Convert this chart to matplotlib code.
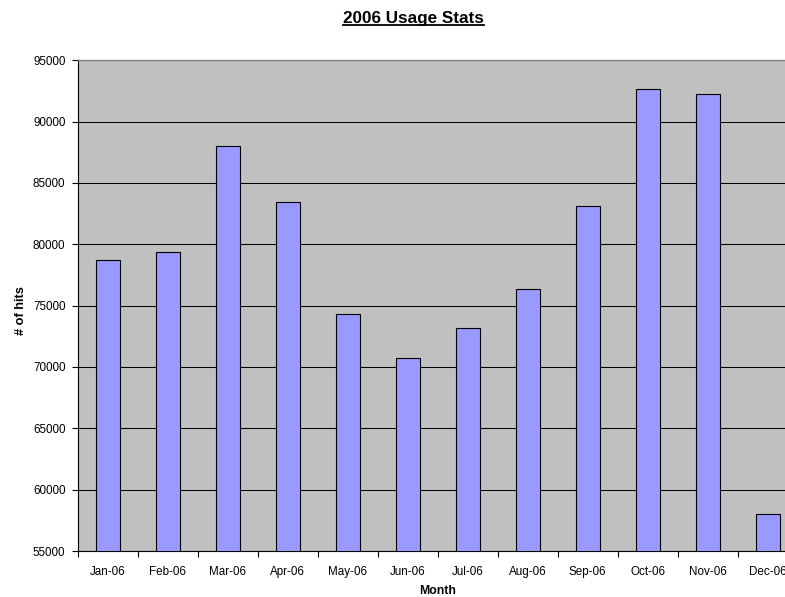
import matplotlib
matplotlib.use("Agg")
import matplotlib.pyplot as plt
from matplotlib.lines import Line2D
import numpy as np

months = ["Jan-06", "Feb-06", "Mar-06", "Apr-06", "May-06", "Jun-06",
          "Jul-06", "Aug-06", "Sep-06", "Oct-06", "Nov-06", "Dec-06"]
hits = [78700, 79350, 88000, 83450, 74300, 70700,
        73200, 76350, 83150, 92700, 92250, 58000]
y_ticks = [55000, 60000, 65000, 70000, 75000, 80000, 85000, 90000, 95000]
title = "2006 Usage Stats"
xlabel = "Month"
ylabel = "# of hits"

plt.rcParams['font.family'] = ['Liberation Sans', 'DejaVu Sans']

W, H = 785, 597
fig = plt.figure(figsize=(W / 100, H / 100), dpi=100)
left, right, top, bottom = 77.7, 797.7, 60.3, 551.0
ax = fig.add_axes([left / W, 1 - bottom / H, (right - left) / W, (bottom - top) / H])
ax.set_facecolor("#C0C0C0")

x = np.arange(len(months))
ax.bar(x, hits, width=0.405, color="#9999FF", edgecolor="black", linewidth=0.8, zorder=3)

ax.set_ylim(55000, 95000)
ax.set_xlim(-0.5, len(months) - 0.5)
ax.set_yticks(y_ticks)
ax.set_yticklabels([str(v) for v in y_ticks], fontsize=8.4)
ax.yaxis.grid(True, color="black", linewidth=0.75, zorder=1)
ax.set_axisbelow(True)

ax.set_xticks(np.arange(-0.5, len(months), 1.0))
ax.set_xticklabels([])
ax.set_xticks(x, minor=True)
ax.set_xticklabels(months, minor=True, fontsize=8.4)
ax.tick_params(axis='x', which='major', length=4, width=0.8, direction='out')
ax.tick_params(axis='x', which='minor', length=0, pad=10.5)
ax.tick_params(axis='y', length=4, width=0.8, direction='out', pad=4.8)

for s in ['left', 'bottom']:
    ax.spines[s].set_color('black')
    ax.spines[s].set_linewidth(0.8)
ax.spines['top'].set_color('#808080')
ax.spines['top'].set_linewidth(1.0)
ax.spines['right'].set_visible(False)

fig.text(437.7 / W, 1 - 591.5 / H, xlabel, fontsize=8.8, fontweight='bold',
         ha='center', va='center')
fig.text(21 / W, 1 - 311 / H, ylabel, fontsize=9.2, fontweight='bold',
         ha='center', va='center', rotation=90)

t = fig.text(413.3 / W, 1 - 23 / H, title, fontsize=12.3, fontweight='bold',
             ha='center', va='baseline')
fig.canvas.draw()
bb = t.get_window_extent(renderer=fig.canvas.get_renderer())
uy = 1 - 25.2 / H
fig.add_artist(Line2D([bb.x0 / W, bb.x1 / W], [uy, uy], color='black', linewidth=1.3,
                      transform=fig.transFigure))

fig.savefig("out.png", dpi=100)
